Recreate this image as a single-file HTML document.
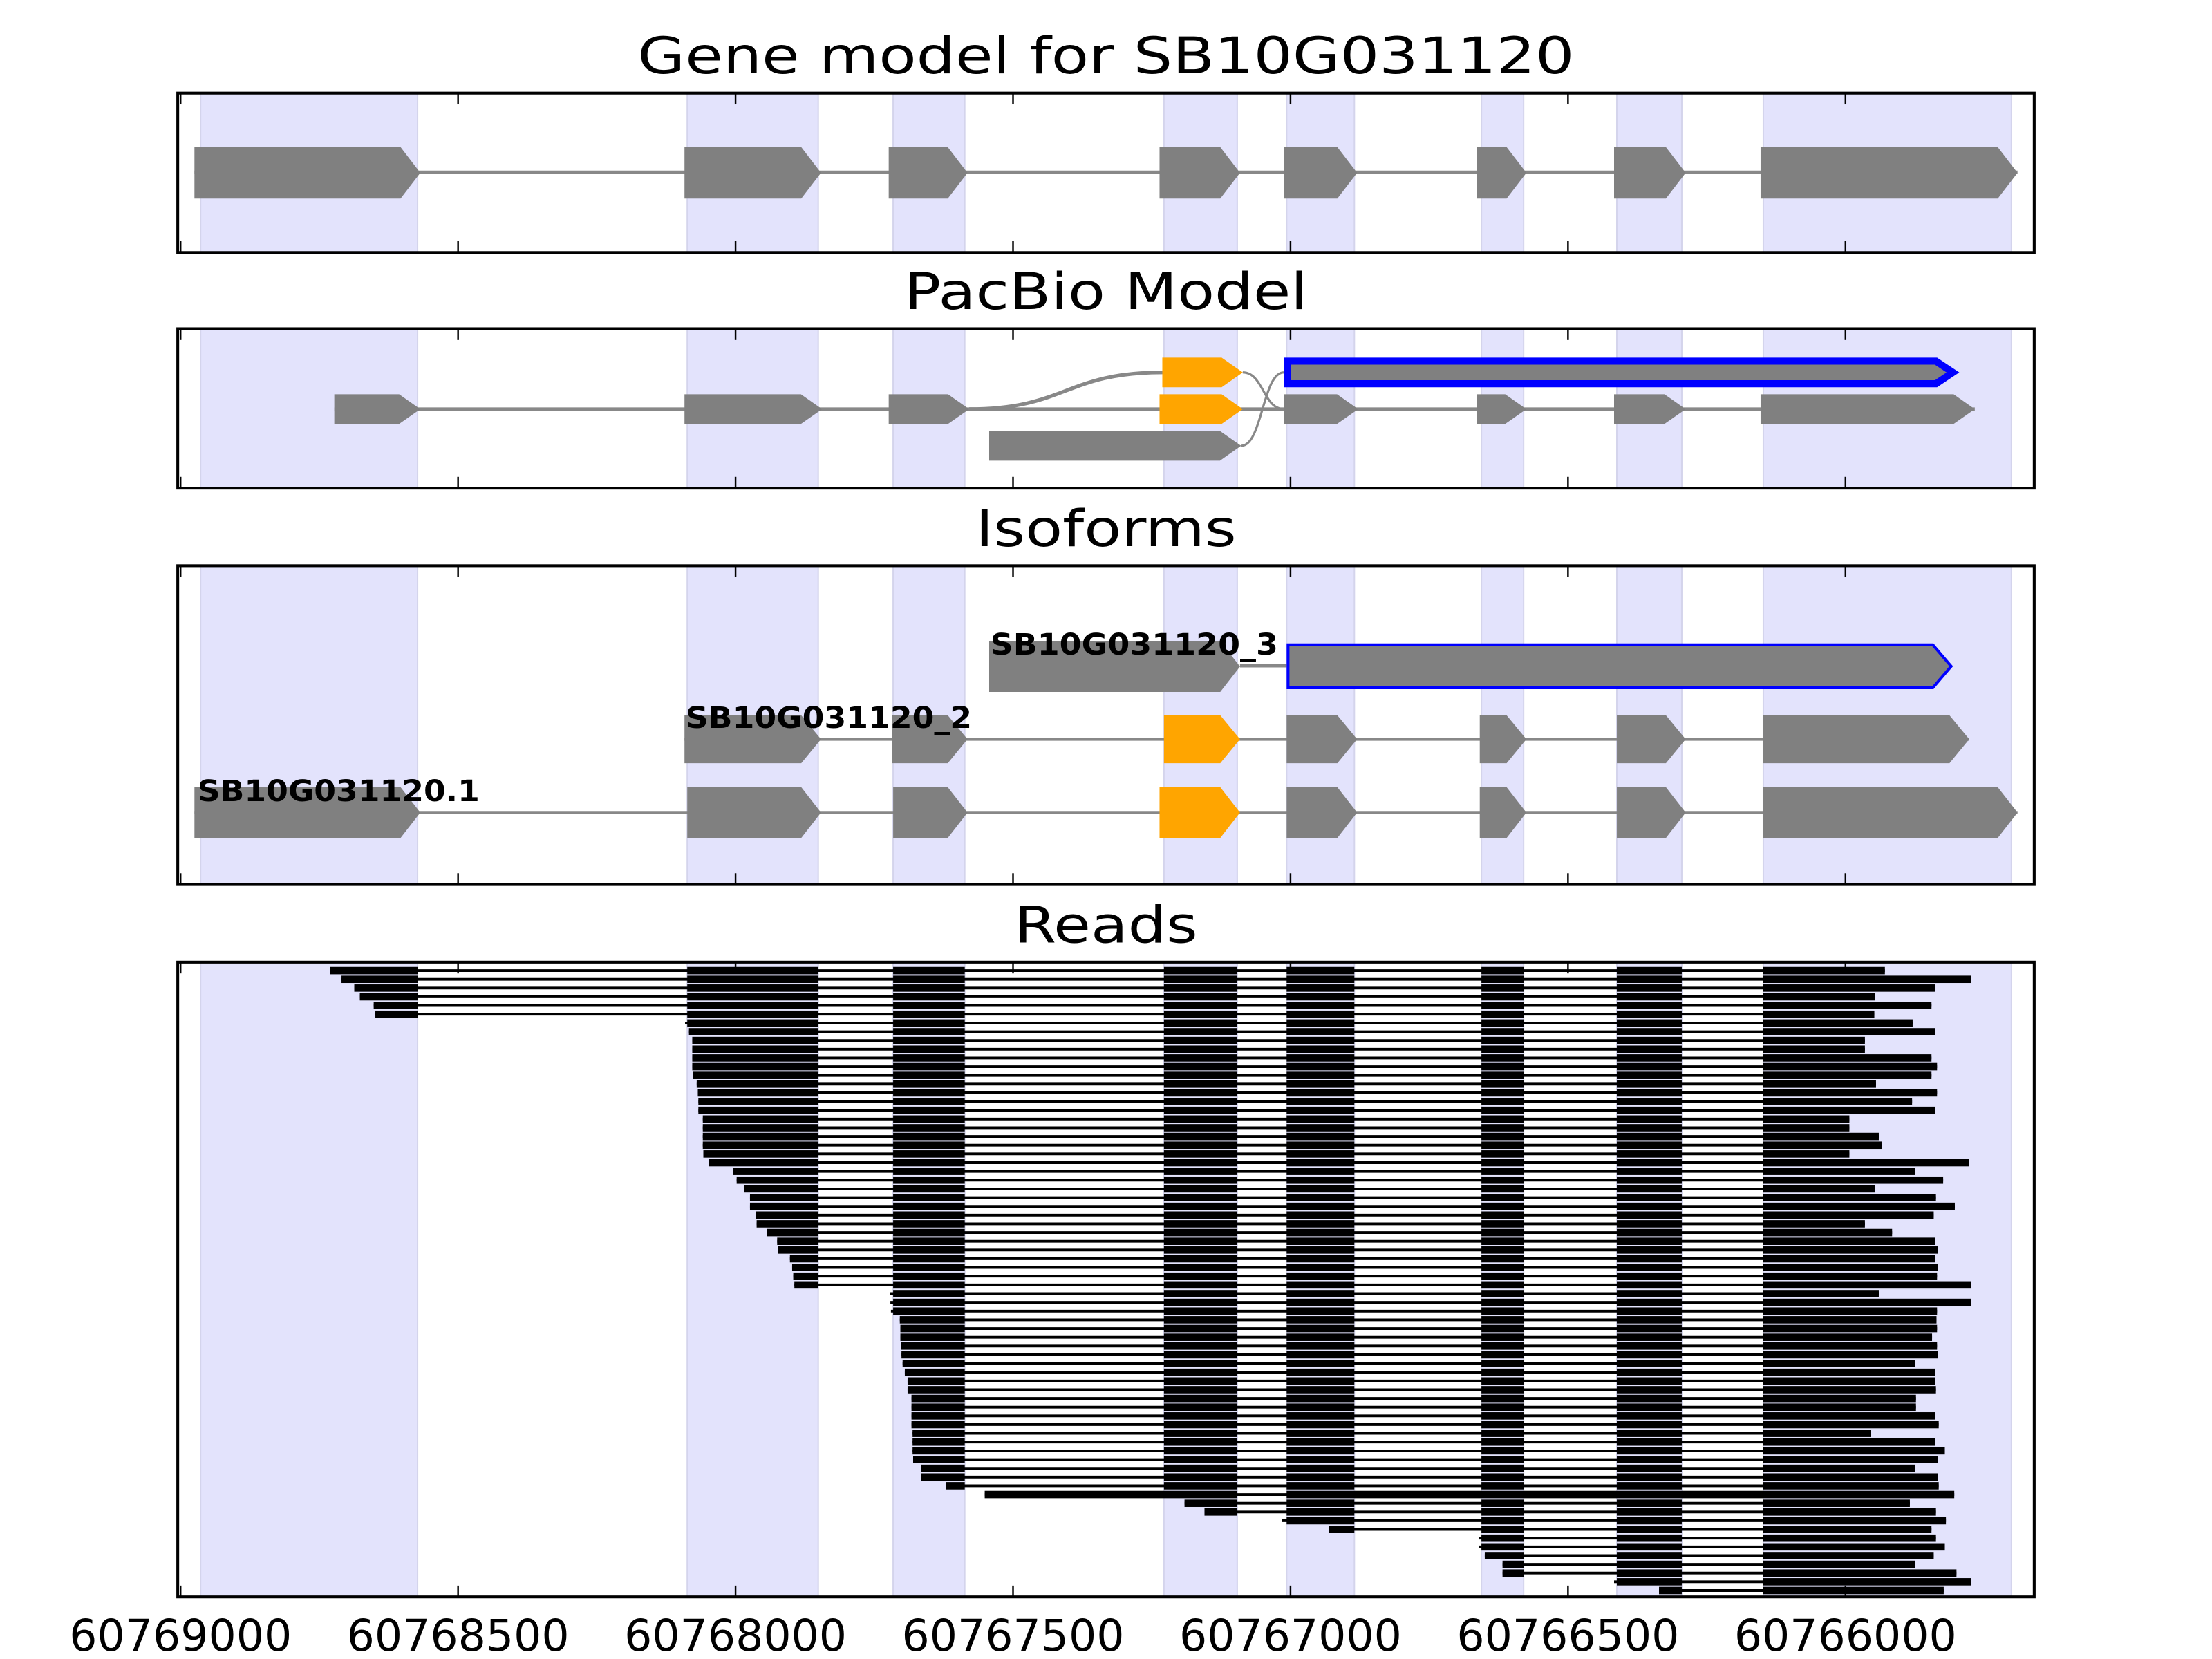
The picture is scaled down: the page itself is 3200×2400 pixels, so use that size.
<!DOCTYPE html>
<html><head><meta charset="utf-8"><style>
html,body{margin:0;padding:0;background:#fff;}
svg{display:block;}
text{font-family:"DejaVu Sans","Liberation Sans",sans-serif;}
</style></head><body>
<svg id="chart" xmlns="http://www.w3.org/2000/svg" width="3200" height="2400" viewBox="0 0 1568 1176">
<g id="shades"></g><g id="marks"></g><g id="frames"></g><g id="labels"></g>
</svg>
<script>
// ---- data (genomic coordinates) ----
const tickValues = [60769000, 60768500, 60768000, 60767500, 60767000, 60766500, 60766000];
const tickLabels = ["60769000", "60768500", "60768000", "60767500", "60767000", "60766500", "60766000"];
const shadeStarts = [60768964, 60768087, 60767716, 60767228, 60767007, 60766656, 60766412, 60766148];
const shadeEnds   = [60768573, 60767851, 60767587, 60767096, 60766885, 60766580, 60766295, 60765701];
const geneExonStarts = [60768975, 60768092, 60767724, 60767236, 60767012, 60766664, 60766417, 60766153];
const geneExonEnds   = [60768568, 60767846, 60767582, 60767091, 60766880, 60766575, 60766288, 60765690];
const iso1Starts = [60768975, 60768087, 60767716, 60767236, 60767007, 60766659, 60766412, 60766148];
const iso1Ends   = [60768568, 60767846, 60767582, 60767091, 60766880, 60766575, 60766288, 60765690];
const iso1Orange = [false, false, false, true, false, false, false, false];
const iso2Starts = [60768092, 60767718, 60767228, 60767007, 60766659, 60766412, 60766148];
const iso2Ends   = [60767846, 60767582, 60767091, 60766880, 60766575, 60766288, 60765777];
const iso2Orange = [false, false, true, false, false, false, false];
const iso3Starts = [60767543, 60767007];
const iso3Ends   = [60767091, 60765807];
const pbMidStarts = [60768723, 60768092, 60767724, 60767236, 60767012, 60766664, 60766417, 60766153];
const pbMidEnds   = [60768568, 60767844, 60767579, 60767086, 60766878, 60766575, 60766288, 60765767];
const pbMidOrange = [false, false, false, true, false, false, false, false];
const pbTopOrange = [60767231, 60767086];
const pbTopBlue   = [60767012, 60765800];
const pbBottom    = [60767543, 60767089];
const readStarts = [60768731,60768710,60768687,60768677,60768652,60768649,
 60768091,60768084,60768078,60768078,60768078,60768078,60768077,60768070,60768068,60768067,60768067,
 60768059,60768059,60768059,60768059,60768058,60768048,60768005,60767998,60767985,60767974,60767974,
 60767963,60767962,60767944,60767925,60767923,60767902,60767898,60767896,60767894,
 60767722,60767721,60767720,60767704,60767703,60767703,60767702,60767701,60767699,60767695,60767690,
 60767690,60767683,60767683,60767683,60767683,60767681,60767681,60767681,60767680,60767666,60767666,60767621,
 60767551,
 60767191,60767155,60767015,60766931,60766661,60766661,60766650,60766618,60766618,60766417,60766336];
const readEnds = [60765929,60765774,60765839,60765947,60765845,60765948,60765879,60765838,60765965,60765965,
 60765845,60765835,60765845,60765945,60765835,60765880,60765839,60765993,60765993,60765940,
 60765935,60765993,60765777,60765874,60765824,60765947,60765837,60765803,60765841,60765965,
 60765916,60765839,60765834,60765838,60765833,60765835,60765774,60765940,60765774,60765835,
 60765836,60765835,60765844,60765835,60765834,60765875,60765838,60765838,60765837,60765873,
 60765873,60765838,60765832,60765954,60765838,60765821,60765834,60765875,60765834,60765832,
 60765804,60765884,60765837,60765819,60765845,60765837,60765821,60765841,60765875,60765800,
 60765774,60765823];
const readRetainedIntron = readStarts.map((s, i) => i === 60);

// ---- layout ----
const NS = "http://www.w3.org/2000/svg";
const L = 126, R = 1442;
const panels = [[66,179],[233,346],[401,627],[682,1132]];
const titles = ["Gene model for SB10G031120", "PacBio Model", "Isoforms", "Reads"];
const titleNames = ["gene-model-title", "pacbio-title", "isoforms-title", "reads-title"];
const titleW = [664, 286, 185, 130];
function x(pos){ return 128 + (60769000 - pos) / 500 * 196.7; }
const GRAY = "#808080", ORANGE = "#ffa500", BLUE = "#0000ff";

function mk(tag, attrs, parent){
  const e = document.createElementNS(NS, tag);
  for (const k in attrs) e.setAttribute(k, attrs[k]);
  parent.appendChild(e); return e;
}
const gS = document.getElementById("shades"), gM = document.getElementById("marks");
const gF = document.getElementById("frames"), gL = document.getElementById("labels");

function arrowPts(x1, x2, yc, h, tip){
  const t = Math.min(tip, x2 - x1);
  return [[x1,yc-h/2],[x2-t,yc-h/2],[x2,yc],[x2-t,yc+h/2],[x1,yc+h/2]].map(p=>p.join(",")).join(" ");
}
function exon(s, e, yc, h, tip, fill, name){
  const p = mk("polygon", {points: arrowPts(x(s), x(e), yc, h, tip), fill: fill}, gM);
  
  
  return p;
}
function line(x1, y1, x2, y2, w, col, name){
  const l = mk("line", {x1:x1, y1:y1, x2:x2, y2:y2, stroke: col, "stroke-width": w}, gM);
  
  
  return l;
}

// shading and frames
panels.forEach((p, pi) => {
  for (let i = 0; i < shadeStarts.length; i++) {
    const r = mk("rect", {x: x(shadeStarts[i]), y: p[0], width: x(shadeEnds[i]) - x(shadeStarts[i]), height: p[1]-p[0], fill: "#e3e3fc", stroke: "#d4d4ec", "stroke-width": 1}, gS);
    
    
  }
  const f = mk("rect", {x: L, y: p[0], width: R-L, height: p[1]-p[0], fill: "none", stroke: "#000", "stroke-width": 2}, gF);
  
  
  tickValues.forEach(v => {
    const t1 = mk("line", {x1: x(v), x2: x(v), y1: p[0], y2: p[0]+8, stroke:"#000", "stroke-width":1.2}, gF);
    
    
    const t2 = mk("line", {x1: x(v), x2: x(v), y1: p[1], y2: p[1]-8, stroke:"#000", "stroke-width":1.2}, gF);
    
    
  });
  const t = mk("text", {x: (L+R)/2, y: p[0]-14, "text-anchor":"middle", "font-size": 36, textLength: titleW[pi], lengthAdjust:"spacingAndGlyphs"}, gL);
  t.textContent = titles[pi];
  
  
});
tickValues.forEach((v, i) => {
  const t = mk("text", {x: x(v), y: 1170, "text-anchor":"middle", "font-size": 31}, gL);
  t.textContent = tickLabels[i];
  
  
});

// gene model
line(x(geneExonStarts[0]), 122, x(geneExonEnds[7]), 122, 2.2, "#888", "gene-intron-line");
for (let i = 0; i < geneExonStarts.length; i++) exon(geneExonStarts[i], geneExonEnds[i], 122.5, 36.5, 14, GRAY, "gene-exon");

// pacbio
const ym = 290, yt = 264, yb = 316;
line(x(pbMidStarts[0]), ym, x(pbMidEnds[7]), ym, 2.4, "#888", "pacbio-intron-line");
function curve(x1, y1, x2, y2, w, name){
  const mx = (x1 + x2) / 2;
  const c = mk("path", {d: `M${x1},${y1} C${mx},${y1} ${mx},${y2} ${x2},${y2}`, fill:"none", stroke:"#888", "stroke-width": w}, gM);
  
  
}
curve(x(pbMidEnds[2]), ym, x(pbTopOrange[0]), yt, 2.6, "pacbio-splice-curve");
curve(x(pbTopOrange[1]), yt, x(pbMidStarts[4]), ym, 1.6, "pacbio-splice-curve");
curve(x(pbBottom[1]), yb, x(pbTopBlue[0]), yt, 1.6, "pacbio-splice-curve");
for (let i = 0; i < pbMidStarts.length; i++) exon(pbMidStarts[i], pbMidEnds[i], ym, 21, 15, pbMidOrange[i] ? ORANGE : GRAY, "pacbio-exon");
exon(pbTopOrange[0], pbTopOrange[1], yt, 21, 15, ORANGE, "pacbio-orange-exon");
exon(pbBottom[0], pbBottom[1], yb, 21, 15, GRAY, "pacbio-exon");
(function(){
  const x1 = x(pbTopBlue[0]) + 2.5, x2 = x(pbTopBlue[1]) - 2.5;
  const p = mk("polygon", {points: arrowPts(x1, x2, yt, 16, 12), fill: GRAY, stroke: BLUE, "stroke-width": 5}, gM);
  
  
})();

// isoforms
function isoform(starts, ends, orange, yc, h, name){
  line(x(starts[0]), yc, x(ends[ends.length-1]), yc, 2.2, "#888", name + "-intron");
  for (let i = 0; i < starts.length; i++) exon(starts[i], ends[i], yc, h, 14, orange[i] ? ORANGE : GRAY, name + "-exon");
}
isoform(iso1Starts, iso1Ends, iso1Orange, 576, 36, "isoform-1");
isoform(iso2Starts, iso2Ends, iso2Orange, 524, 34, "isoform-2");
line(x(iso3Ends[0]), 472, x(iso3Starts[1]), 472, 2.2, "#888", "isoform-3-intron");
exon(iso3Starts[0], iso3Ends[0], 472.5, 36, 14, GRAY, "isoform-3-exon");
(function(){
  const p = mk("polygon", {points: arrowPts(x(iso3Starts[1]) + 1, x(iso3Ends[1]) - 1, 472.3, 30.5, 13), fill: GRAY, stroke: BLUE, "stroke-width": 2}, gM);
  
  
})();
const isoLabels = [["SB10G031120.1", 140, 568, 200], ["SB10G031120_2", 486, 516, 203], ["SB10G031120_3", 702, 464, 204]];
isoLabels.forEach(l => {
  const t = mk("text", {x: l[1], y: l[2], "font-size": 21, "font-weight": "bold", textLength: l[3], lengthAdjust: "spacingAndGlyphs"}, gL);
  t.textContent = l[0];
  
  
});

// reads
for (let i = 0; i < readStarts.length; i++) {
  const yc = 688 + i * 6.19;
  const s = readStarts[i], e = readEnds[i];
  line(x(s), yc, x(e), yc, 1.9, "#000", "read-line");
  let blocks = [];
  if (readRetainedIntron[i]) {
    blocks = [[s, shadeEnds[3]], [shadeStarts[4], e]];
  } else {
    for (let k = 0; k < shadeStarts.length; k++) {
      const a = Math.min(s, shadeStarts[k]), b = Math.max(e, shadeEnds[k]);
      if (a > b) blocks.push([a, b]);
    }
  }
  blocks.forEach(bk => {
    const r = mk("rect", {x: x(bk[0]), y: yc - 2.6, width: x(bk[1]) - x(bk[0]), height: 5.2, fill: "#000"}, gM);
    
    
  });
}
</script>
</body></html>
